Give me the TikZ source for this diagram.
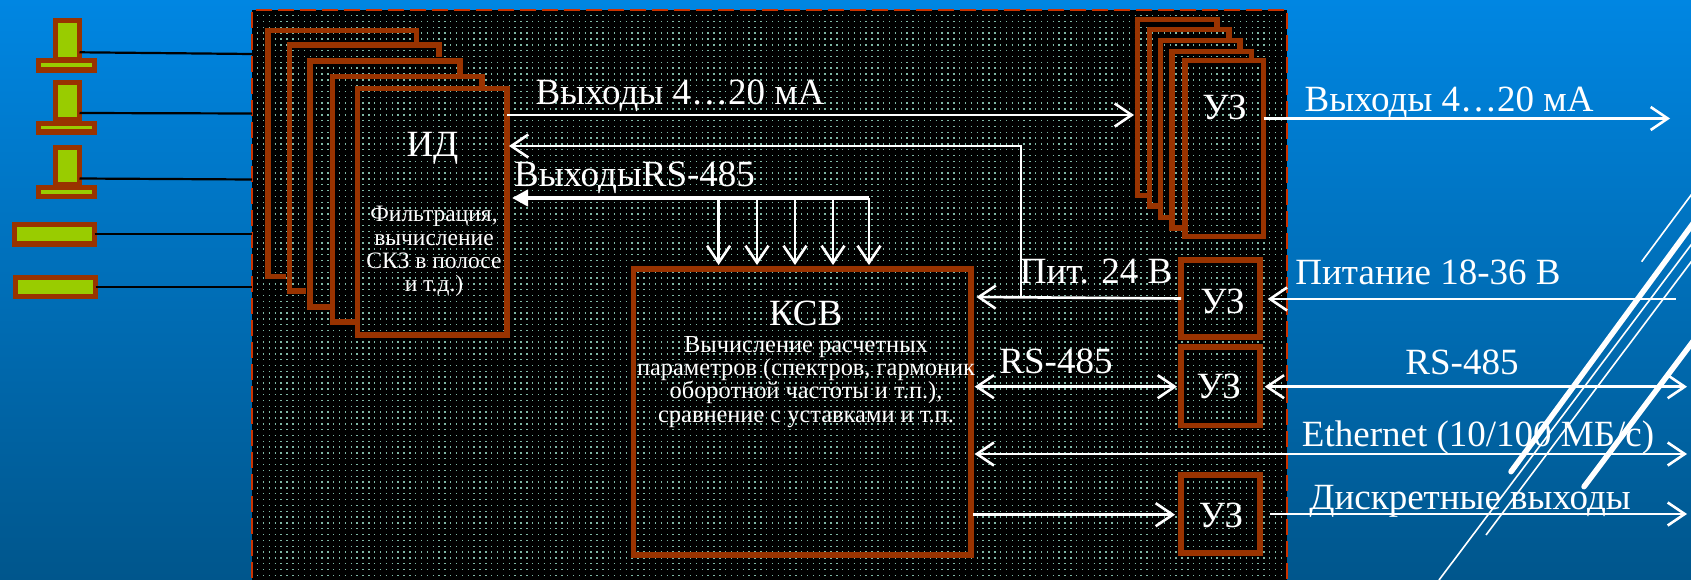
\documentclass[tikz,border=0pt]{standalone}
\usepackage{fontspec}
\setmainfont{Liberation Serif}
\usetikzlibrary{arrows.meta}
\definecolor{rust}{HTML}{993300}
\definecolor{leaf}{HTML}{99CC00}
\definecolor{skytop}{HTML}{0086E2}
\definecolor{skybot}{HTML}{00568C}
\definecolor{speck}{HTML}{7FB8A6}
\definecolor{edge}{HTML}{CC3300}
\tikzset{
  bigtext/.style={text=white,inner sep=0pt,font=\fontsize{37}{40}\selectfont},
  midtext/.style={text=white,inner sep=0pt,font=\fontsize{37}{40}\selectfont},
  smalltext/.style={text=white,inner sep=0pt,align=center,font=\fontsize{23.5}{23.2}\selectfont},
  smallertext/.style={text=white,inner sep=0pt,align=center,font=\fontsize{24.4}{23.2}\selectfont},
  frame/.style={draw=rust,line width=5.4pt,inner sep=0pt,outer sep=0pt},
  stack/.style={draw=rust,line width=5.2pt},
  part/.style={draw=rust,fill=leaf,line width=5.2pt,inner sep=0pt,outer sep=0pt},
  wire/.style={draw=black,line width=2.2pt},
  conn/.style={draw=white,line width=2.6pt},
  arr/.style={conn,-{Straight Barb[length=17pt,width=23pt,line width=2.6pt]}},
  darr/.style={conn,{Straight Barb[length=17pt,width=23pt,line width=2.6pt]}-{Straight Barb[length=17pt,width=23pt,line width=2.6pt]}},
  drop/.style={arr},
  bus/.style={draw=white,line width=4.4pt,-{Triangle[length=16pt,width=16pt]}},
  thinslash/.style={draw=white,line width=1.6pt},
  thickslash/.style={draw=white,line width=5.5pt,line cap=round},
}
% \rbox{name}{style}{x0}{y0}{x1}{y1}
\newcommand{\rbox}[6]{%
  \pgfmathsetmacro{\bw}{#5-#3}\pgfmathsetmacro{\bh}{#6-#4}%
  \pgfmathsetmacro{\bx}{(#3+#5)/2}\pgfmathsetmacro{\by}{(#4+#6)/2}%
  \node[#2,minimum width=\bw pt,minimum height=\bh pt] (#1) at (\bx,\by) {};}
\begin{document}
\begin{tikzpicture}[x=1pt,y=-1pt]
\useasboundingbox (0,0) rectangle (1691,580);
\clip (0,0) rectangle (1691,580);
\shade[top color=skytop,bottom color=skybot] (0,0) rectangle (1691,580);
% panel
\fill[black] (252,10) rectangle (1287,600);
\foreach \r in {0,...,99}{
  \draw[speck,line width=1.4pt,dash pattern=on 1.4pt off 4.45pt] (257,15.7+5.83*\r) -- (1284,15.7+5.83*\r);
}
\node[draw=edge,line width=2.2pt,dash pattern=on 16pt off 6pt,inner sep=0pt,outer sep=0pt,
      minimum width=1035pt,minimum height=590pt,anchor=north west] (panel) at (252,10) {};
% decorative diagonals
\coordinate (pa0) at (1641.6,261.7); \coordinate (pa1) at (1700,183);
\coordinate (pb0) at (1511,471.7);   \coordinate (pb1) at (1700,214);
\coordinate (pc0) at (1439,580);     \coordinate (pc1) at (1700,233);
\coordinate (pd0) at (1486,535);     \coordinate (pd1) at (1700,250);
\coordinate (pe0) at (1584,486.7);   \coordinate (pe1) at (1700,332);
\draw[thinslash] (pa0) -- (pa1);
\draw[thickslash] (pb0) -- (pb1);
\draw[thinslash] (pc0) -- (pc1);
\draw[thinslash] (pd0) -- (pd1);
\draw[thickslash] (pe0) -- (pe1);
% sensors
\rbox{sa}{part}{55.3}{20.5}{79.5}{60}
\rbox{sab}{part}{38.5}{60.5}{94.5}{70}
\rbox{sb}{part}{55.3}{82.3}{79.5}{120}
\rbox{sbb}{part}{38.5}{123.3}{94.5}{132}
\rbox{sc}{part}{55.3}{147.3}{79.5}{185}
\rbox{scb}{part}{38.5}{187.5}{94.5}{196.5}
\rbox{sd}{part}{14.5}{224.5}{94.5}{244}
\rbox{se}{part}{15.5}{277.5}{95.5}{296.5}
\draw[wire] (sa.east |- 0,52.3) -- (panel.west |- 0,54);
\draw[wire] (sb.east |- 0,113) -- (panel.west |- 0,113.5);
\draw[wire] (sc.east |- 0,178.5) -- (panel.west |- 0,179.5);
\draw[wire] (sd.east) -- (panel.west |- sd.east);
\draw[wire] (se.east) -- (panel.west |- se.east);
% ID stack
\draw[stack] (416.4,45) -- (416.4,30.7) -- (268,30.7) -- (268,276.7) -- (286,276.7);
\draw[stack] (439,57) -- (439,45) -- (289.6,45) -- (289.6,291) -- (306,291);
\draw[stack] (460,76) -- (460,61) -- (310,61) -- (310,307) -- (332,307);
\draw[stack] (482,90) -- (482,76.3) -- (332.5,76.3) -- (332.5,322) -- (357,322);
\rbox{id}{frame}{357.5}{88.7}{507}{335}
\node[bigtext] (idname) at (432.5,148) {ИД};
\node[smalltext] (idtext) at (434,251.5) {Фильтрация,\\вычисление\\СКЗ в полосе\\и т.д.)};
% UZ stack
\draw[stack] (1217,29) -- (1217,19.3) -- (1137.7,19.3) -- (1137.7,195.7) -- (1149,195.7);
\draw[stack] (1229,40) -- (1229,29.3) -- (1149.4,29.3) -- (1149.4,206) -- (1160,206);
\draw[stack] (1240,52) -- (1240,40.7) -- (1160.3,40.7) -- (1160.3,217.3) -- (1172,217.3);
\draw[stack] (1251.5,62) -- (1251.5,51.7) -- (1172,51.7) -- (1172,228) -- (1184,228);
\rbox{uza}{frame}{1184.8}{60.7}{1263.6}{236.7}
\node[bigtext] (uzatext) at (1224.4,107) {УЗ};
% other UZ
\rbox{uzb}{frame}{1181}{260}{1260}{337}
\node[bigtext] (uzbtext) at (1222.5,301.7) {УЗ};
\rbox{uzc}{frame}{1181}{347}{1260}{425.7}
\node[bigtext] (uzctext) at (1218.7,386.7) {УЗ};
\rbox{uzd}{frame}{1181}{475}{1260}{553}
\node[bigtext] (uzdtext) at (1221,515) {УЗ};
% KSV
\rbox{ksv}{frame}{633.6}{269}{971}{555}
\node[bigtext] (ksvname) at (805.7,313.7) {КСВ};
\node[smallertext] (ksvtext) at (806,382) {Вычисление расчетных\\параметров (спектров, гармоник\\оборотной частоты и т.п.),\\сравнение с уставками и т.п.};
% free ends
\coordinate (rA) at (1670,118.5);
\coordinate (rB) at (1675.6,299);
\coordinate (rC) at (1687,386.7);
\coordinate (rD) at (1687,454);
\coordinate (rE) at (1687,514);
\coordinate (lA) at (1270,514);
\coordinate (lB) at (1264.7,386.7);
\coordinate (busr) at (869,198);
\coordinate (vt) at (1021,297);
\coordinate (vb) at (1021,146);
% connectors
\draw[arr] (id.east |- 0,115) -- (1134,115);
\draw[arr] (uza.east |- rA) -- (rA);
\draw[arr] (rB) -- (1267.7,299);
\draw[arr] (uzb.west |- 0,298.5) -- (976.4,297);
\draw[arr] (vt) -- (vb) -- (509,146);
\draw[darr] (974.6,386.7) -- (1177,386.7);
\draw[darr] (lB) -- (rC);
\draw[darr] (974.6,454) -- (rD);
\draw[arr] (973,514.7) -- (1175,514.7);
\draw[arr] (lA) -- (rE);
\draw[bus] (busr) -- (512,198);
\foreach \n/\x in {a/718.6,b/757,c/795,d/833,e/869}{
  \draw[drop] (\x,198) -- (\x,265);
}
% labels
\node[midtext] (t1) at (680,96) {Выходы 4…20 мА};
\node[midtext] (t2) at (1449,103) {Выходы 4…20 мА};
\node[midtext] (t3) at (634.5,178) {ВыходыRS-485};
\node[midtext] (t4) at (1096,272) {Пит. 24 В};
\node[midtext] (t5) at (1428,272) {Питание 18-36 В};
\node[midtext] (t6) at (1056,361) {RS-485};
\node[midtext] (t7) at (1462,362) {RS-485};
\node[midtext] (t8) at (1478,438) {Ethernet (10/100 МБ/с)};
\node[midtext] (t9) at (1470,501) {Дискретные выходы};
\end{tikzpicture}
\end{document}
